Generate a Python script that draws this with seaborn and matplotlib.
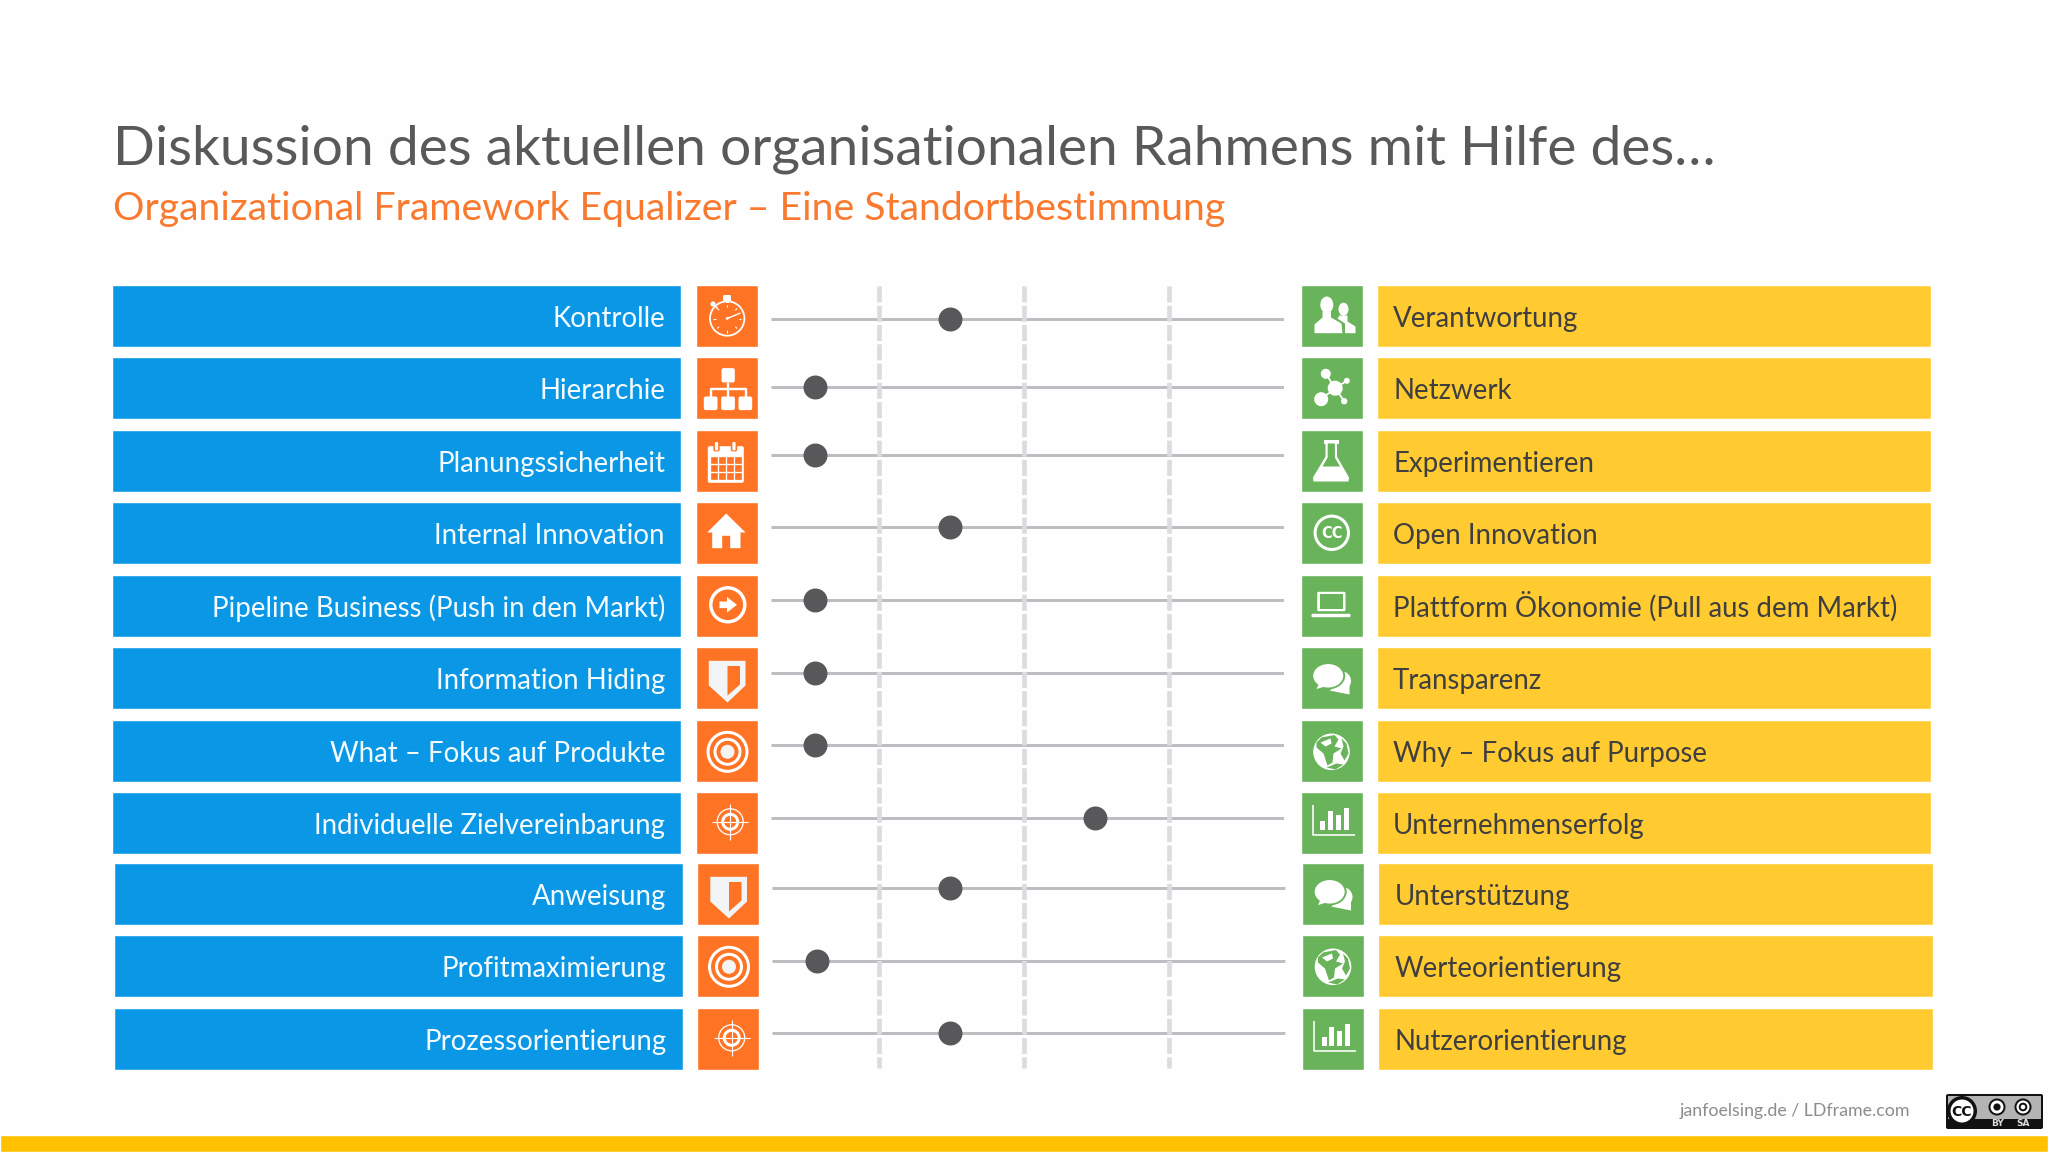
import matplotlib
matplotlib.use('Agg')
import matplotlib.pyplot as plt
from matplotlib.patches import Circle, Ellipse, FancyBboxPatch, Polygon, Rectangle
import seaborn as sns

title = 'Diskussion des aktuellen organisationalen Rahmens mit Hilfe des…'
subtitle = 'Organizational Framework Equalizer – Eine Standortbestimmung'
footer = 'janfoelsing.de / LDframe.com'

left_labels = ['Kontrolle', 'Hierarchie', 'Planungssicherheit', 'Internal Innovation',
               'Pipeline Business (Push in den Markt)', 'Information Hiding',
               'What – Fokus auf Produkte', 'Individuelle Zielvereinbarung', 'Anweisung',
               'Profitmaximierung', 'Prozessorientierung']
right_labels = ['Verantwortung', 'Netzwerk', 'Experimentieren', 'Open Innovation',
                'Plattform Ökonomie (Pull aus dem Markt)', 'Transparenz',
                'Why – Fokus auf Purpose', 'Unternehmenserfolg', 'Unterstützung',
                'Werteorientierung', 'Nutzerorientierung']
left_icons = ['watch', 'tree', 'calendar', 'house', 'arrow', 'shield', 'target', 'cross',
              'shield', 'target', 'cross']
right_icons = ['people', 'network', 'flask', 'cc', 'laptop', 'chat', 'globe', 'bars',
               'chat', 'globe', 'bars']
# slider position, the dashed lines sit at 1, 2 and 3
levels = [1.49, 0.56, 0.56, 1.49, 0.56, 0.56, 0.56, 2.49, 1.49, 0.57, 1.49]
dash_levels = [1, 2, 3]

row_tops = [284.8, 356.8, 429.8, 501.8, 574.8, 646.8, 719.8, 791.8, 862.8, 934.8, 1007.8]
track_y = [319, 387, 455, 527, 600, 673, 745, 818, 888, 961, 1033]

BLUE = '#0A98E6'
ORANGE = '#FF7424'
GREEN = '#69B35B'
YELLOW = '#FFCB30'
BAND = '#FFC000'
WHITE = '#FFFFFF'
FONT = 'Lato'
CELL = 62.2

sns.set_theme(style='white')
plt.rcParams['font.family'] = [FONT, 'DejaVu Sans']

fig = plt.figure(figsize=(20.48, 11.52), dpi=100, facecolor='#FEFEFE')
ax = fig.add_axes([0, 0, 1, 1])
ax.set_xlim(0, 2048)
ax.set_ylim(1152, 0)
ax.axis('off')


def px(width):
    return width * 0.72


def disc(x, y, r, color=WHITE):
    ax.add_patch(Circle((x, y), r, fc=color, ec='none'))


def ring(x, y, r, width, color=WHITE):
    ax.add_patch(Circle((x, y), r, fc='none', ec=color, lw=px(width)))


def box(x0, y0, x1, y1, color=WHITE, rounded=0):
    if rounded:
        ax.add_patch(FancyBboxPatch((x0 + rounded, y0 + rounded), x1 - x0 - 2 * rounded,
                                    y1 - y0 - 2 * rounded, boxstyle=f'round,pad={rounded}',
                                    fc=color, ec='none'))
    else:
        ax.add_patch(Rectangle((x0, y0), x1 - x0, y1 - y0, fc=color, ec='none'))


def poly(x, y, points, color=WHITE):
    ax.add_patch(Polygon([(x + a, y + b) for a, b in points], closed=True, fc=color, ec='none'))


def stroke(x, y, points, width, color=WHITE):
    ax.plot([x + a for a, b in points], [y + b for a, b in points], color=color, lw=px(width),
            solid_capstyle='butt')


def icon_watch(x, y, bg):
    ring(x + 30.7, y + 33, 17.2, 1.8)
    box(x + 26.5, y + 9.5, x + 34.5, y + 16, rounded=1.5)
    box(x + 29, y + 14, x + 32, y + 17)
    disc(x + 16.5, y + 18.5, 2.6)
    stroke(x, y, [(19, 21), (21, 23)], 1.6)
    stroke(x, y, [(30.7, 33), (44, 27.5)], 1.4)
    disc(x + 30.7, y + 33, 1.4)
    for a, b, c, d in [(30.7, 19, 30.7, 21.5), (30.7, 47, 30.7, 44.5), (16.7, 33, 19.2, 33),
                       (44.7, 33, 42.2, 33), (20.8, 23, 22.6, 24.8), (40.6, 23, 38.8, 24.8),
                       (20.8, 43, 22.6, 41.2), (40.6, 43, 38.8, 41.2)]:
        stroke(x, y, [(a, b), (c, d)], 1.1)


def icon_tree(x, y, bg):
    box(x + 25, y + 10.6, x + 38.3, y + 25, rounded=2)
    stroke(x, y, [(31.5, 25), (31.5, 39)], 2.4)
    stroke(x, y, [(14.3, 39), (14.3, 31), (49, 31), (49, 39)], 2.4)
    for a in [7.3, 24.7, 42]:
        box(x + a, y + 39, x + a + 13.7, y + 52.6, rounded=2)


def icon_calendar(x, y, bg):
    box(x + 11.3, y + 15.7, x + 47.3, y + 52.3, rounded=2)
    box(x + 14, y + 25, x + 45, y + 50, color=bg)
    for a in range(5):
        stroke(x, y, [(13 + a * 8.2 + 0.1, 25), (13 + a * 8.2 + 0.1, 50)], 1.3)
    for b in range(4):
        stroke(x, y, [(13, 25 + b * 8.2), (45, 25 + b * 8.2)], 1.3)
    for a in [20, 37.5]:
        box(x + a - 3.2, y + 10.5, x + a + 3.2, y + 21, color=bg, rounded=2)
        box(x + a - 1.6, y + 11.5, x + a + 1.6, y + 20, rounded=1.2)


def icon_house(x, y, bg):
    poly(x, y, [(29.7, 11), (49, 30), (44, 30), (44, 45.7), (33.7, 45.7), (33.7, 33.3),
                (25.7, 33.3), (25.7, 45.7), (15.7, 45.7), (15.7, 30), (10.7, 30)])


def icon_arrow(x, y, bg):
    ring(x + 31.3, y + 29.3, 17, 3.4)
    poly(x, y, [(23, 26), (30.5, 26), (30.5, 21.5), (40.5, 29.3), (30.5, 37), (30.5, 32.6),
                (23, 32.6)])


def icon_shield(x, y, bg):
    poly(x, y, [(12.3, 13.3), (49, 13.3), (49, 38), (31, 55), (12.3, 38)], color='#F2F4F6')
    poly(x, y, [(31, 18.5), (43.5, 18.5), (43.5, 37), (31, 48)], color=bg)


def icon_target(x, y, bg):
    ring(x + 31, y + 31.3, 19.5, 3)
    ring(x + 31, y + 31.3, 12.5, 3)
    disc(x + 31, y + 31.3, 7, color='#F4F4F4')


def icon_cross(x, y, bg):
    cx, cy = 33.7, 29.3
    ring(x + cx, y + cy, 13, 1.3)
    ring(x + cx, y + cy, 7.5, 3)
    stroke(x, y, [(cx - 18, cy), (cx + 18, cy)], 1.1)
    stroke(x, y, [(cx, cy - 18), (cx, cy + 18)], 1.1)


def icon_people(x, y, bg):
    ax.add_patch(Ellipse((x + 42, y + 23.7), 10, 13, fc=WHITE, ec='none'))
    poly(x, y, [(38, 30), (46, 30), (46, 36), (54, 41), (54, 47.7), (43.5, 47.7), (43.5, 38), (36, 33)])
    ax.add_patch(Ellipse((x + 25.3, y + 19.3), 15, 18, fc=bg, ec='none'))
    ax.add_patch(Ellipse((x + 25.3, y + 19.3), 13, 16.5, fc=WHITE, ec='none'))
    poly(x, y, [(21, 26), (29.5, 26), (29.5, 32), (40, 38), (41, 47.7), (13, 47.7), (13, 39), (21, 32)])


def icon_network(x, y, bg):
    for a, b in [(24.3, 16.3), (19.7, 41.7), (45.3, 23.3), (42.7, 43.7)]:
        stroke(x, y, [(33.7, 30.7), (a, b)], 1.8)
    disc(x + 33.7, y + 30.7, 7.5)
    disc(x + 24.3, y + 16.3, 5)
    disc(x + 19.7, y + 41.7, 7)
    disc(x + 45.3, y + 23.3, 3)
    disc(x + 42.7, y + 43.7, 3.2)


def icon_flask(x, y, bg):
    box(x + 22, y + 9.5, x + 37.5, y + 13)
    poly(x, y, [(24, 13), (35.5, 13), (35.5, 26), (47.5, 47), (47, 51), (12, 51), (11.5, 47),
                (24, 26)])
    poly(x, y, [(26.2, 13), (33.4, 13), (33.4, 27), (38.5, 36), (21, 36), (26.2, 27)], color=bg)


def icon_cc(x, y, bg):
    ring(x + 30.3, y + 30.3, 16.7, 3)
    ax.text(x + 30.3, y + 30.8, 'CC', color=WHITE, ha='center', va='center', fontsize=10.5,
            fontweight='bold', family='DejaVu Sans')


def icon_laptop(x, y, bg):
    box(x + 15.7, y + 16.3, x + 44, y + 35.7, rounded=1.5)
    box(x + 18, y + 18.5, x + 41.7, y + 33.5, color=bg)
    box(x + 10, y + 38.3, x + 49, y + 41.7, rounded=1)


def icon_chat(x, y, bg):
    ax.add_patch(Ellipse((x + 39, y + 33.5), 21, 20, fc=WHITE, ec='none'))
    poly(x, y, [(36, 38), (48, 36), (48, 47), (28, 43)])
    ax.add_patch(Ellipse((x + 26.7, y + 28.3), 34, 27, fc=bg, ec='none'))
    ax.add_patch(Ellipse((x + 26.7, y + 28.3), 30, 23.5, fc=WHITE, ec='none'))
    poly(x, y, [(18, 35), (27, 38), (15, 41.5)])


def icon_globe(x, y, bg):
    disc(x + 30, y + 31.3, 18.3)
    poly(x, y, [(20, 17), (33, 14.5), (37, 19), (33, 26), (40, 28), (32, 33), (31, 42), (26, 45),
                (22, 33), (15, 27), (15, 22)], color=bg)
    poly(x, y, [(19, 22), (29, 18), (30, 23), (24, 26)])
    poly(x, y, [(40, 18), (45, 23), (47, 33), (43, 40), (39, 33), (42, 26)], color=bg)
    poly(x, y, [(25, 47), (35, 43), (42, 44), (34, 49)], color=bg)


def icon_bars(x, y, bg):
    stroke(x, y, [(11, 12.5), (11, 42), (53, 42)], 1.6)
    for a, top in [(18.5, 28), (26, 18.5), (34, 22), (42, 15)]:
        box(x + a, y + top, x + a + 5, y + 37.5)


icon_draw = {'watch': icon_watch, 'tree': icon_tree, 'calendar': icon_calendar, 'house': icon_house,
             'arrow': icon_arrow, 'shield': icon_shield, 'target': icon_target, 'cross': icon_cross,
             'people': icon_people, 'network': icon_network, 'flask': icon_flask, 'cc': icon_cc,
             'laptop': icon_laptop, 'chat': icon_chat, 'globe': icon_globe, 'bars': icon_bars}

# label bars and icon cells, the last three rows sit a little further right
for i, top in enumerate(row_tops):
    shift = 1.5 if i >= 8 else 0
    ax.barh(top + CELL / 2, 569, left=112 + shift, height=CELL, color=BLUE)
    ax.barh(top + CELL / 2, 62, left=695.8 + shift, height=CELL, color=ORANGE)
    ax.barh(top + CELL / 2, 62, left=1300.8 + shift, height=CELL, color=GREEN)
    ax.barh(top + CELL / 2, 554.2, left=1376.8 + shift, height=CELL, color=YELLOW)
    ax.text(665 + shift, top + 41.8, left_labels[i], color='#F4FAFE', ha='right', va='baseline', fontsize=19.9)
    ax.text(1393 + shift, top + 41.8, right_labels[i], color='#3F3F3F', ha='left', va='baseline', fontsize=19.9)
    icon_draw[left_icons[i]](696.5 + shift, top + 0.7, ORANGE)
    icon_draw[right_icons[i]](1301.5 + shift, top + 0.7, GREEN)

ax.text(113, 164, title, color='#595959', ha='left', va='baseline', fontsize=39.7)
ax.text(113, 220, subtitle, color='#F97A2E', ha='left', va='baseline', fontsize=28.3)
ax.text(1680, 1116, footer, color='#8C8C8C', ha='left', va='baseline', fontsize=12.8)

# bottom band
ax.barh(1143.5, 2048, left=0, height=17, color=BAND)

# licence badge
box(1946, 1094, 2043, 1129, color='#111111', rounded=2)
box(1948, 1096, 2041, 1119, color='#B4B4B4')
disc(1962, 1111, 15, color='#111111')
disc(1962, 1111, 11.5)
ax.text(1962, 1111.5, 'CC', color='#111111', ha='center', va='center', fontsize=10, fontweight='bold',
        family='DejaVu Sans')
for cx in [1997, 2023]:
    disc(cx, 1107, 8.5, color='#111111')
    disc(cx, 1107, 6.5)
disc(1997, 1107, 3.6, color='#111111')
ring(2023, 1107, 3.3, 2, color='#111111')
ax.text(1997, 1124, 'BY', color='#DDDDDD', ha='center', va='center', fontsize=6.5, fontweight='bold',
        family='DejaVu Sans')
ax.text(2023, 1124, 'SA', color='#DDDDDD', ha='center', va='center', fontsize=6.5, fontweight='bold',
        family='DejaVu Sans')

# slider area with its own scale in levels
slider = fig.add_axes([771 / 2048, 0, (1284 - 771) / 2048, 1], facecolor='none')
slider.set_xlim(0.255, 3.793)
slider.set_ylim(1152, 0)
slider.hlines(track_y[:8], 0.255, 3.793, color='#BEBEC2', lw=px(3), zorder=1)
slider.hlines(track_y[8:], 0.265, 3.803, color='#BEBEC2', lw=px(3), zorder=1, clip_on=False)
slider.vlines(dash_levels, 286, 1068, color='#DCDCE0', lw=px(4.7), linestyles=(0, (3.4, 0.7)), zorder=2)
sns.scatterplot(x=levels, y=track_y, ax=slider, color='#58585A', s=298, linewidth=0, legend=False,
                zorder=3, clip_on=False)
slider.axis('off')

fig.savefig('out.png', dpi=100, facecolor=fig.get_facecolor())
